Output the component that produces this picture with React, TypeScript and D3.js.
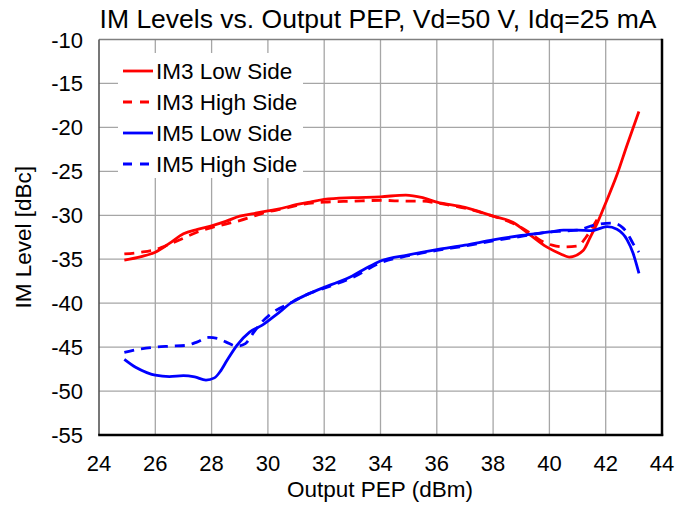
import React from "react";
import * as d3 from "d3";

const xTicks = [24, 26, 28, 30, 32, 34, 36, 38, 40, 42, 44];
const yTicks = [-10, -15, -20, -25, -30, -35, -40, -45, -50, -55];

const im3Low: [number, number][] = [
  [24.9, -35.1], [25.5, -34.7], [26, -34.2], [26.5, -33.2], [27, -32.1], [27.5, -31.6], [28, -31.2],
  [28.5, -30.7], [29, -30.1], [29.5, -29.8], [30, -29.5], [30.5, -29.2], [31, -28.8], [31.5, -28.5],
  [32, -28.2], [33, -28.0], [34, -27.9], [34.9, -27.7], [35.5, -28.0], [36, -28.5], [37, -29.1],
  [38, -30.1], [38.7, -30.8], [39.3, -32.2], [39.9, -33.6], [40.4, -34.4], [40.7, -34.75],
  [41.2, -34.0], [41.45, -32.5], [41.7, -30.9], [42, -28.6], [42.4, -25.4], [42.76, -22.0], [43.18, -18.2],
];

const im3High: [number, number][] = [
  [24.9, -34.4], [25.5, -34.2], [26, -33.9], [26.5, -33.3], [27, -32.6], [27.5, -31.9], [28, -31.4],
  [28.5, -31.0], [29, -30.6], [29.5, -30.1], [30, -29.6], [30.5, -29.3], [31, -28.9], [32, -28.5],
  [33, -28.4], [34, -28.3], [35, -28.4], [35.5, -28.4], [36, -28.6], [37, -29.2], [38, -30.1],
  [38.7, -30.9], [39.3, -32.0], [39.7, -32.9], [40.1, -33.4], [40.5, -33.6], [41, -33.5],
  [41.3, -32.5], [41.6, -31.0], [41.75, -30.2],
];

const im5Low: [number, number][] = [
  [24.9, -46.4], [25.3, -47.3], [25.7, -47.9], [26, -48.2], [26.5, -48.35], [27, -48.25], [27.4, -48.4],
  [27.8, -48.75], [28.1, -48.5], [28.3, -47.8], [28.55, -46.5], [28.9, -44.8], [29.35, -43.3],
  [29.8, -42.5], [30.3, -41.3], [30.9, -39.8], [31.4, -39.0], [32, -38.2], [32.5, -37.6], [33, -36.9],
  [33.5, -36.0], [34, -35.2], [35, -34.5], [36, -33.9], [37, -33.4], [38, -32.8], [39, -32.3],
  [40, -31.9], [40.5, -31.7], [41, -31.7], [41.5, -31.75], [42.05, -31.3], [42.4, -31.6],
  [42.76, -32.8], [42.97, -34.3], [43.18, -36.6],
];

const im5High: [number, number][] = [
  [24.9, -45.6], [25.5, -45.2], [26, -45.0], [26.5, -44.9], [27.1, -44.8], [27.5, -44.4], [27.9, -43.9],
  [28.2, -44.0], [28.5, -44.4], [28.9, -44.9], [29.2, -44.6], [29.5, -43.3], [29.8, -42.1],
  [30.2, -41.0], [30.8, -40.0], [31.4, -39.0], [32, -38.3], [33, -37.1], [34, -35.4], [35, -34.6],
  [36, -34.0], [37, -33.5], [38, -32.9], [39, -32.4], [40, -31.9], [40.5, -31.8], [41, -31.7],
  [41.6, -31.1], [42.25, -30.9], [42.6, -31.4], [42.76, -32.0], [42.97, -33.2], [43.18, -34.2],
];

const seriesNames = ["IM3 Low Side", "IM3 High Side", "IM5 Low Side", "IM5 High Side"];
const seriesColors = ["#ff0000", "#ff0000", "#0000ff", "#0000ff"];
const seriesDashed = [false, true, false, true];
const seriesData = [im3Low, im3High, im5Low, im5High];

const W = 676;
const H = 505;
const L = 99, R = 662, T = 39.5, B = 435;
const FONT = "Arial, 'Liberation Sans', Helvetica, sans-serif";

export default function App() {
  const x = d3.scaleLinear().domain([24, 44]).range([L, R]);
  const y = d3.scaleLinear().domain([-55, -10]).range([B, T]);
  const line = d3
    .line<[number, number]>()
    .x((d) => x(d[0]))
    .y((d) => y(d[1]))
    .curve(d3.curveMonotoneX);

  return (
    <svg
      width={W}
      height={H}
      style={{ position: "absolute", left: 0, top: 0, background: "#fff" }}
      fontFamily={FONT}
    >
      <rect x={0} y={0} width={W} height={H} fill="#fff" />
      {xTicks.slice(1, -1).map((t) => (
        <line key={"gx" + t} x1={x(t)} x2={x(t)} y1={T} y2={B} stroke="#a6a6a6" strokeWidth={1.3} />
      ))}
      {yTicks.slice(1, -1).map((t) => (
        <line key={"gy" + t} x1={L} x2={R} y1={y(t)} y2={y(t)} stroke="#a6a6a6" strokeWidth={1.3} />
      ))}
      <line x1={L} x2={R} y1={T} y2={T} stroke="#808080" strokeWidth={1.3} />
      <line x1={L} x2={L} y1={T} y2={B} stroke="#555" strokeWidth={1.6} />
      <line x1={R} x2={R} y1={T - 0.7} y2={B + 1} stroke="#000" strokeWidth={2.5} />
      <line x1={L - 0.8} x2={R + 1.2} y1={B} y2={B} stroke="#000" strokeWidth={2.5} />

      <rect x={118} y={53} width={185} height={125} fill="#fff" />

      {seriesData.map((d, i) => (
        <path
          key={"s" + i}
          d={line(d) || ""}
          fill="none"
          stroke={seriesColors[i]}
          strokeWidth={2.8}
          strokeDasharray={seriesDashed[i] ? "10,7" : undefined}
          strokeLinejoin="round"
        />
      ))}

      {seriesNames.map((n, i) => {
        const ly = 71 + i * 31;
        return (
          <g key={"lg" + i}>
            <line
              x1={123}
              x2={153}
              y1={ly}
              y2={ly}
              stroke={seriesColors[i]}
              strokeWidth={2.8}
              strokeDasharray={seriesDashed[i] ? "9,8" : undefined}
            />
            <text x={156} y={ly + 8} fontSize={22.5} fill="#000">
              {n}
            </text>
          </g>
        );
      })}

      {yTicks.map((t) => (
        <text key={"yt" + t} x={83} y={y(t) + 8} fontSize={22} textAnchor="end" fill="#000">
          {t}
        </text>
      ))}
      {xTicks.map((t) => (
        <text key={"xt" + t} x={x(t)} y={471} fontSize={22} textAnchor="middle" fill="#000">
          {t}
        </text>
      ))}

      <text x={380} y={497} fontSize={22.5} textAnchor="middle" fill="#000">
        Output PEP (dBm)
      </text>
      <text
        transform={`translate(31, ${(T + B) / 2}) rotate(-90)`}
        fontSize={22.5}
        textAnchor="middle"
        fill="#000"
      >
        IM Level [dBc]
      </text>

      <text x={378} y={28} fontSize={26.5} textAnchor="middle" fill="#000">
        IM Levels vs. Output PEP, Vd=50 V, Idq=25 mA
      </text>
    </svg>
  );
}
